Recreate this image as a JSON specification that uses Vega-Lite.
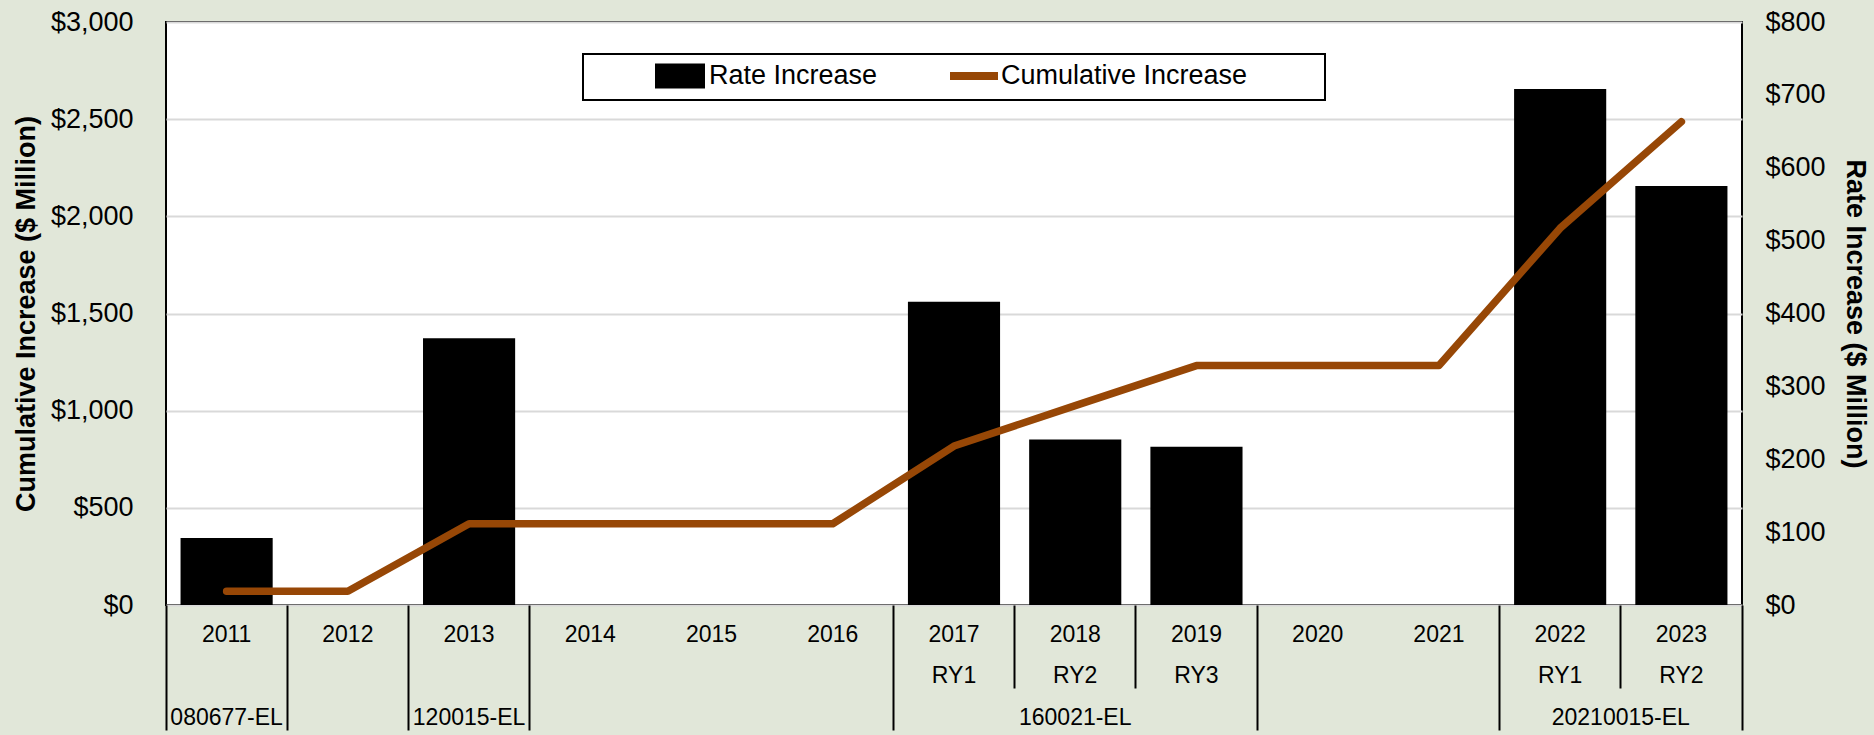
{
  "$schema": "https://vega.github.io/schema/vega-lite/v6.json",
  "width": 1576,
  "height": 583,
  "autosize": {"type": "none"},
  "padding": {"left": 166, "top": 22, "right": 132, "bottom": 130},
  "background": "#e1e7d9",
  "config": {
    "font": "Liberation Sans",
    "view": {"fill": "white", "stroke": "black", "strokeWidth": 2},
    "axis": {"labelColor": "black", "titleColor": "black", "labelFont": "Liberation Sans", "titleFont": "Liberation Sans"},
    "legend": {"labelFont": "Liberation Sans", "titleFont": "Liberation Sans", "labelColor": "black", "strokeWidth": 2}
  },
  "data": {
    "values": [
      {"period": "2011||080677-EL", "rate": 92, "cumulative": 71},
      {"period": "2012||", "rate": null, "cumulative": 71},
      {"period": "2013||120015-EL", "rate": 366, "cumulative": 418},
      {"period": "2014||", "rate": null, "cumulative": 418},
      {"period": "2015||", "rate": null, "cumulative": 418},
      {"period": "2016||", "rate": null, "cumulative": 418},
      {"period": "2017|RY1|", "rate": 416, "cumulative": 818},
      {"period": "2018|RY2|160021-EL", "rate": 227, "cumulative": 1026},
      {"period": "2019|RY3|", "rate": 217, "cumulative": 1232},
      {"period": "2020||", "rate": null, "cumulative": 1232},
      {"period": "2021||", "rate": null, "cumulative": 1232},
      {"period": "2022|RY1|", "rate": 708, "cumulative": 1939},
      {"period": "2023|RY2|20210015-EL", "rate": 575, "cumulative": 2487}
    ]
  },
  "layer": [
    {
      "mark": {"type": "bar", "width": {"band": 0.76}},
      "encoding": {
        "x": {
          "field": "period", "type": "nominal", "sort": "ascending",
          "scale": {"type": "band", "paddingInner": 0, "paddingOuter": 0},
          "axis": {"orient": "bottom", "title": null, "domain": false, "ticks": false, "tickSize": 0, "grid": false,
                   "labelAngle": 0, "labelFontSize": 23, "labelPadding": 18, "labelLineHeight": 41,
                   "bandPosition": 0.5, "labelExpr": "slice(split(datum.value, '|'), 0, 2)"}
        },
        "y": {
          "field": "rate", "type": "quantitative",
          "scale": {"domain": [0, 800], "nice": false},
          "axis": {"orient": "right", "title": "Rate Increase ($ Million)", "values": [0, 100, 200, 300, 400, 500, 600, 700, 800],
                   "format": "$,.0f", "grid": false, "ticks": false, "tickSize": 0, "domain": false,
                   "labelFontSize": 27, "labelPadding": 23, "titleFontSize": 27, "titleFontWeight": "bold", "titlePadding": 15}
        },
        "fill": {
          "datum": "Rate Increase", "type": "nominal",
          "scale": {"range": ["black"]},
          "legend": {
            "orient": "none", "legendX": 500.5, "legendY": 40.5, "direction": "horizontal", "title": null,
            "padding": 0, "labelFontSize": 27, "labelOffset": 15.5, "labelLimit": 500,
            "symbolType": "M-2.5,-1.25H2.5V1.25H-2.5Z", "symbolSize": 400, "symbolStrokeWidth": 0,
            "symbolOpacity": 1, "zindex": 2
          }
        }
      }
    },
    {
      "mark": {"type": "line", "strokeWidth": 7.5, "strokeCap": "round", "strokeJoin": "round"},
      "encoding": {
        "x": {
          "field": "period", "type": "nominal", "sort": "ascending",
          "axis": {"orient": "bottom", "title": null, "domain": false, "ticks": false, "tickSize": 0, "grid": false,
                   "labelAngle": 0, "labelFontSize": 23, "labelPadding": 101, "bandPosition": 0.5,
                   "labelExpr": "split(datum.value, '|')[2]",
                   "labelOffset": {"condition": {"test": "substring(datum.value, 0, 4) == '2023'", "value": -60.6}, "value": 0}}
        },
        "y": {
          "field": "cumulative", "type": "quantitative",
          "scale": {"domain": [0, 3000], "nice": false},
          "axis": {"orient": "left", "title": "Cumulative Increase ($ Million)", "values": [0, 500, 1000, 1500, 2000, 2500, 3000],
                   "format": "$,.0f", "grid": true, "gridColor": "#d9d9d9", "gridWidth": 2, "ticks": false, "tickSize": 0, "domain": false,
                   "labelFontSize": 27, "labelPadding": 33, "titleFontSize": 27, "titleFontWeight": "bold", "titlePadding": 10}
        },
        "stroke": {
          "datum": "Cumulative Increase", "type": "nominal",
          "scale": {"range": ["#974706"]},
          "legend": {
            "orient": "none", "legendX": 417, "legendY": 32, "direction": "horizontal",
            "title": "\u00a0", "titleOrient": "left", "titleFontSize": 27, "titlePadding": 369,
            "strokeColor": "black", "fillColor": "white", "padding": 8,
            "labelFontSize": 27, "labelOffset": 13, "labelLimit": 500,
            "symbolType": "M-2.4,0H2.4M32.7,0", "symbolSize": 400, "symbolStrokeWidth": 8, "symbolOpacity": 1,
            "zindex": 1
          }
        }
      }
    },
    {
      "mark": {"type": "rule", "opacity": 0},
      "encoding": {
        "x": {
          "field": "period", "type": "nominal", "sort": "ascending",
          "axis": {"orient": "bottom", "title": null, "labels": false, "domain": false, "grid": false, "ticks": true,
                   "bandPosition": 0, "tickSize": 125, "tickWidth": 2, "tickColor": "black",
                   "tickOpacity": {"condition": {"test": "indexof(['2011','2012','2013','2014','2017','2020','2022'], substring(datum.value, 0, 4)) >= 0", "value": 1}, "value": 0}}
        }
      }
    },
    {
      "mark": {"type": "rule", "opacity": 0},
      "encoding": {
        "x": {
          "field": "period", "type": "nominal", "sort": "ascending",
          "axis": {"orient": "bottom", "title": null, "labels": false, "domain": false, "grid": false, "ticks": true,
                   "bandPosition": 0, "tickSize": 83, "tickWidth": 2, "tickColor": "black",
                   "tickOpacity": {"condition": {"test": "indexof(['2018','2019','2023'], substring(datum.value, 0, 4)) >= 0", "value": 1}, "value": 0}}
        }
      }
    },
    {
      "mark": {"type": "rule", "opacity": 0},
      "encoding": {
        "x": {
          "field": "period", "type": "nominal", "sort": "ascending",
          "axis": {"orient": "bottom", "title": null, "labels": false, "domain": false, "grid": false, "ticks": true,
                   "bandPosition": 1, "tickSize": 125, "tickWidth": 2, "tickColor": "black",
                   "tickOpacity": {"condition": {"test": "substring(datum.value, 0, 4) == '2023'", "value": 1}, "value": 0}}
        }
      }
    }
  ],
  "resolve": {"scale": {"y": "independent"}, "axis": {"x": "independent", "y": "independent"}}
}
